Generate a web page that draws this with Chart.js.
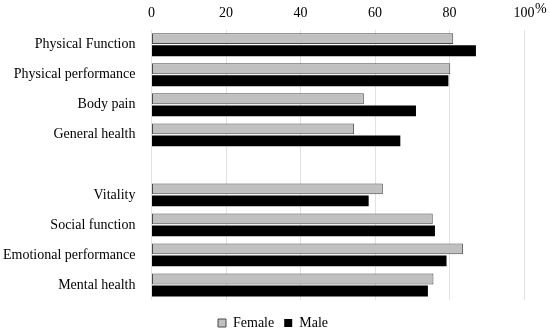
<!DOCTYPE html>
<html>
<head>
<meta charset="utf-8">
<script src="https://cdn.jsdelivr.net/npm/chart.js@4/dist/chart.umd.min.js"></script>
<style>
  html, body { margin: 0; padding: 0; background: #fff; }
  #wrap { width: 550px; height: 332px; }
</style>
</head>
<body>
<div id="wrap"><canvas id="c" width="550" height="332"></canvas></div>
<script>
const categories = ["Physical Function", "Physical performance", "Body pain", "General health", "", "Vitality", "Social function", "Emotional performance", "Mental health"];
const femaleValues = [81.0, 80.2, 57.0, 54.4, null, 62.1, 75.5, 83.6, 75.7];
const maleValues = [87.1, 79.7, 71.0, 66.8, null, 58.3, 76.1, 79.2, 74.2];
const xTicks = [0, 20, 40, 60, 80, 100];
const unitLabel = "%";

const FONT = "'Liberation Serif', 'Times New Roman', serif";

const percentPlugin = {
  id: 'percentLabel',
  afterDraw(chart) {
    const s = chart.scales.x;
    const ctx = chart.ctx;
    ctx.save();
    ctx.font = "14px " + FONT;
    ctx.fillStyle = "#000";
    ctx.textBaseline = "middle";
    ctx.textAlign = "left";
    ctx.fillText(unitLabel, s.getPixelForValue(xTicks[xTicks.length - 1]) + 11, 9.5);
    ctx.restore();
  }
};

new Chart(document.getElementById('c'), {
  type: 'bar',
  data: {
    labels: categories,
    datasets: [
      {
        label: 'Female',
        data: femaleValues,
        backgroundColor: '#c0c0c0',
        borderColor: '#4a4a4a',
        borderWidth: 1,
        borderSkipped: false,
        categoryPercentage: 0.8,
        barPercentage: 0.9
      },
      {
        label: 'Male',
        data: maleValues,
        backgroundColor: '#000000',
        borderColor: '#000000',
        borderWidth: 0,
        categoryPercentage: 0.8,
        barPercentage: 0.9
      }
    ]
  },
  options: {
    indexAxis: 'y',
    responsive: false,
    animation: false,
    layout: { padding: { left: 2, right: 6, top: 0, bottom: -8 } },
    scales: {
      x: {
        type: 'linear',
        position: 'top',
        min: 0,
        max: 100,
        afterBuildTicks: (s) => { s.ticks = xTicks.map(v => ({ value: v })); },
        grid: { color: '#e2e2e2', lineWidth: 1, drawTicks: false },
        border: { display: false },
        ticks: { color: '#000', font: { family: FONT, size: 14 }, padding: 8, maxRotation: 0 },
        afterFit: (s) => { s.height = 29.7; }
      },
      xb: {
        type: 'linear',
        axis: 'x',
        position: 'bottom',
        display: true,
        grid: { display: false, drawTicks: false },
        border: { display: false },
        ticks: { display: false },
        afterFit: (s) => { s.height = 6; }
      },
      y: {
        type: 'category',
        grid: { display: false, drawTicks: false },
        border: { display: false },
        ticks: { color: '#000', font: { family: FONT, size: 14 }, padding: 16, autoSkip: false },
        afterFit: (s) => { s.width = 149.5; }
      },
      yr: {
        type: 'linear',
        axis: 'y',
        position: 'right',
        display: true,
        grid: { display: false, drawTicks: false },
        border: { display: false },
        ticks: { display: false },
        afterFit: (s) => { s.width = 20; }
      }
    },
    plugins: {
      legend: {
        position: 'bottom',
        labels: {
          color: '#000',
          font: { family: FONT, size: 14 },
          boxWidth: 8,
          boxHeight: 8,
          padding: 10
        }
      },
      tooltip: { enabled: false }
    }
  },
  plugins: [percentPlugin]
});
</script>
</body>
</html>
